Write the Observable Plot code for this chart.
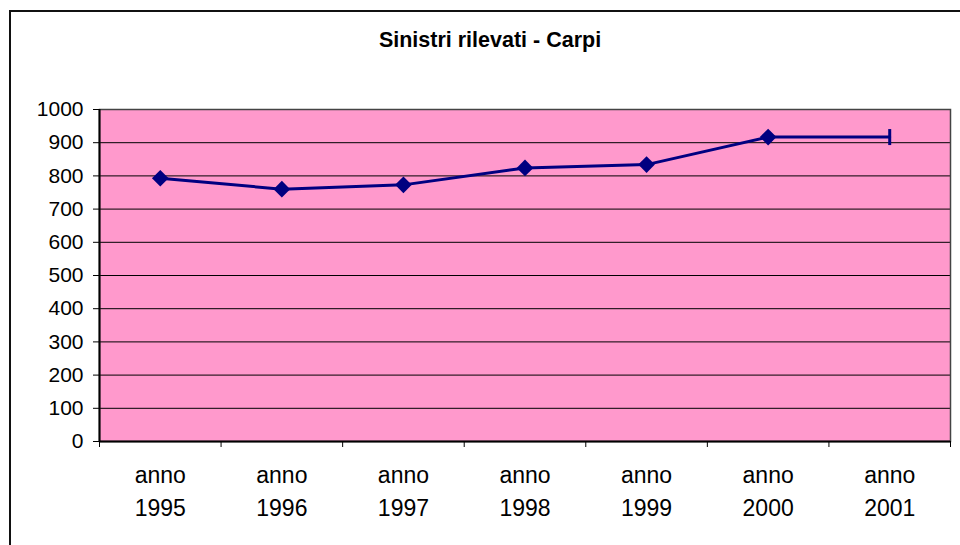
<!DOCTYPE html>
<html><head><meta charset="utf-8">
<script src="https://cdn.jsdelivr.net/npm/d3@7"></script>
<script src="https://cdn.jsdelivr.net/npm/@observablehq/plot@0.6"></script>
<style>
body{margin:0;background:#fff;font-family:"Liberation Sans",Arial,sans-serif;}
#wrap{position:relative;width:960px;height:545px;overflow:hidden;}
#border{position:absolute;left:9px;top:10px;width:1000px;height:600px;border-left:2px solid #111;border-top:2px solid #111;}
#title{position:absolute;left:0;width:980px;top:28px;text-align:center;font-weight:bold;font-size:21.5px;line-height:24px;color:#000;}
#chart{position:absolute;left:0;top:0;}
</style></head><body>
<div id="wrap"><div id="border"></div><div id="title">Sinistri rilevati - Carpi</div><div id="chart"></div></div>
<script>
const categories = ["anno 1995","anno 1996","anno 1997","anno 1998","anno 1999","anno 2000","anno 2001"];
const values = [793, 760, 773, 824, 834, 917, 917];
const yTicks = [0,100,200,300,400,500,600,700,800,900,1000];

const n = categories.length;
const data = categories.map((c, i) => ({i, label: c.replace(" ", "\n"), value: values[i]}));
const xPos = d => d.i + 0.5;
const barSymbol = {draw(ctx, size){ const h = Math.sqrt(size / Math.PI); ctx.moveTo(0, -h); ctx.lineTo(0, h); }};

const chart = Plot.plot({
  width: 960, height: 545,
  marginLeft: 99, marginRight: 10, marginTop: 109, marginBottom: 104,
  style: {background: "transparent", fontFamily: "Liberation Sans, Arial, sans-serif", color: "#000"},
  x: {domain: [0, n], axis: null},
  y: {domain: [0, 1000], axis: null},
  marks: [
    Plot.frame({fill: "#FF99CC"}),
    Plot.gridY(yTicks, {stroke: "#000", strokeOpacity: 1, strokeWidth: 1}),
    Plot.frame({stroke: "#444", strokeWidth: 1.5}),
    Plot.axisY({ticks: yTicks, tickSize: 6, tickPadding: 10, fontSize: 21, tickFormat: d => String(d), stroke: "#000", label: null}),
    Plot.axisX({ticks: d3.range(n + 1), tickSize: 6, tickFormat: () => "", stroke: "#000", label: null}),
    Plot.ruleX([0], {stroke: "#000", strokeWidth: 2}),
    Plot.ruleY([0], {stroke: "#000", strokeWidth: 2}),
    Plot.line(data, {x: xPos, y: "value", stroke: "#000080", strokeWidth: 3}),
    Plot.dot(data.slice(0, -1), {x: xPos, y: "value", symbol: "diamond2", r: 7.5, fill: "#000080", stroke: "none"}),
    Plot.dot(data.slice(-1), {x: xPos, y: "value", symbol: barSymbol, r: 8, fill: "none", stroke: "#000080", strokeWidth: 3}),
    Plot.text(data, {x: xPos, text: "label", frameAnchor: "bottom", dy: 18, lineAnchor: "top", fontSize: 23, lineHeight: 1.43, fill: "#000"})
  ]
});
document.getElementById("chart").appendChild(chart);
</script>
</body></html>
